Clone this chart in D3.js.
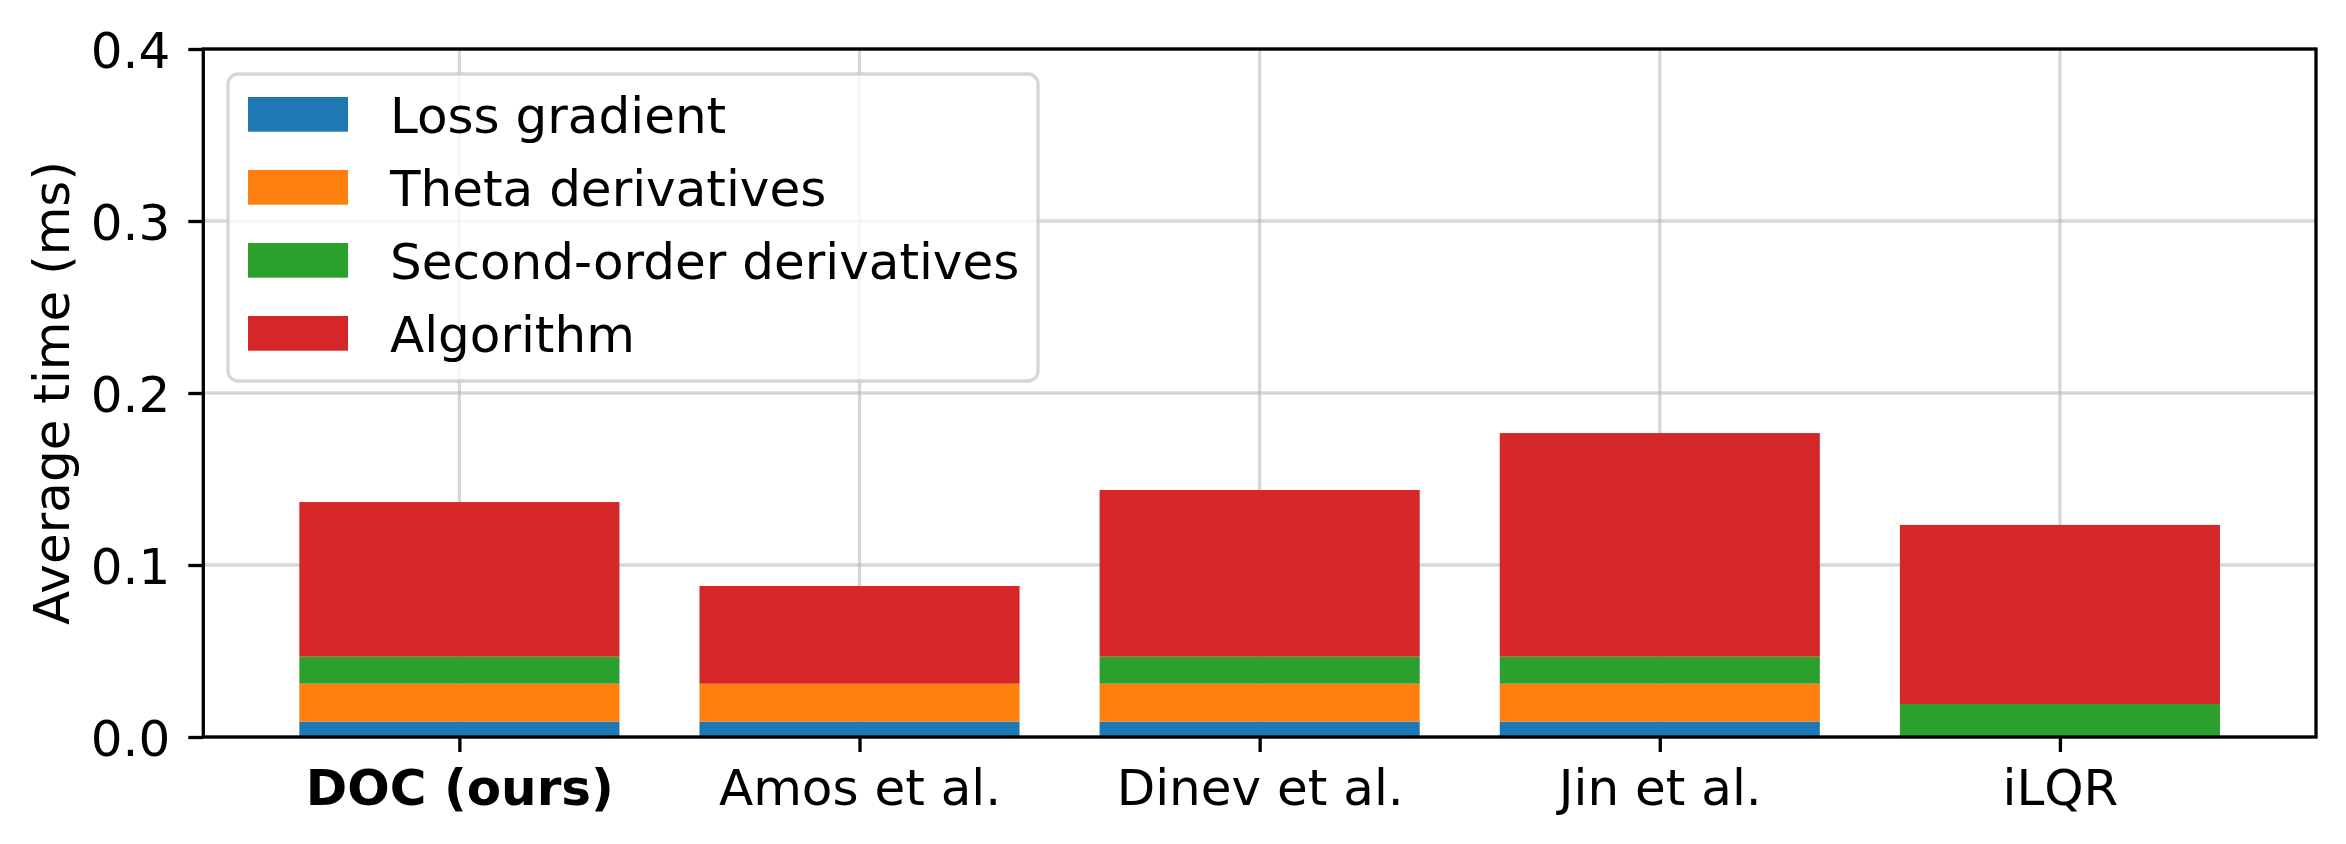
<!DOCTYPE html>
<html>
<head>
<meta charset="utf-8">
<script src="https://cdn.jsdelivr.net/npm/d3@7"></script>
<style>
  html, body { margin: 0; padding: 0; background: #fff; }
  svg { display: block; font-family: "DejaVu Sans", sans-serif; }
</style>
</head>
<body>
<svg id="chart" width="2346" height="844"></svg>
<script>
// ---- data ----
const categories = ["DOC (ours)", "Amos et al.", "Dinev et al.", "Jin et al.", "iLQR"];
const seriesNames = ["Loss gradient", "Theta derivatives", "Second-order derivatives", "Algorithm"];
const lossGradient = [0.009, 0.009, 0.009, 0.009, 0.0];
const thetaDerivatives = [0.022, 0.022, 0.022, 0.022, 0.0];
const secondOrder = [0.0157, 0.0, 0.0157, 0.0157, 0.0192];
const algorithm = [0.0899, 0.0568, 0.0969, 0.1300, 0.1041];
const yTicks = [0.0, 0.1, 0.2, 0.3, 0.4];
const colors = ["#1f77b4", "#ff7f0e", "#2ca02c", "#d62728"];
const yLabel = "Average time (ms)";

// ---- layout ----
const L = 203.3, R = 2316, T = 49, B = 737;
const fs = 50;
const svg = d3.select("#chart");

const x = d3.scaleLinear().domain([-0.64, 4.64]).range([L, R]);
const y = d3.scaleLinear().domain([0, 0.4]).range([B, T]);
const barW = 0.8;

// grid
const grid = svg.append("g");
grid.selectAll("line.h").data(yTicks).enter().append("line")
  .attr("x1", L).attr("x2", R).attr("y1", d => y(d)).attr("y2", d => y(d))
  .attr("stroke", "#b0b0b0").attr("stroke-opacity", 0.5).attr("stroke-width", 3.3);
grid.selectAll("line.v").data(categories.map((c, i) => i)).enter().append("line")
  .attr("y1", T).attr("y2", B).attr("x1", d => x(d)).attr("x2", d => x(d))
  .attr("stroke", "#b0b0b0").attr("stroke-opacity", 0.5).attr("stroke-width", 3.3);

// stacked bars
const rows = categories.map((c, i) => ({
  i,
  s0: lossGradient[i], s1: thetaDerivatives[i], s2: secondOrder[i], s3: algorithm[i]
}));
const stack = d3.stack().keys(["s0", "s1", "s2", "s3"])(rows);
const bars = svg.append("g");
stack.forEach((layer, k) => {
  bars.selectAll(null).data(layer.filter(d => d[1] - d[0] > 0)).enter().append("rect")
    .attr("x", d => x(d.data.i - barW / 2))
    .attr("width", d => x(d.data.i + barW / 2) - x(d.data.i - barW / 2))
    .attr("y", d => y(d[1]))
    .attr("height", d => y(d[0]) - y(d[1]))
    .attr("fill", colors[k]);
});

// axes
const xAxis = d3.axisBottom(x).tickValues(categories.map((c, i) => i))
  .tickFormat(i => categories[i]).tickSizeOuter(0).tickSize(15).tickPadding(17);
const gx = svg.append("g").attr("transform", `translate(0,${B})`).call(xAxis);
gx.select(".domain").remove();
gx.selectAll(".tick line").attr("stroke", "#000").attr("stroke-width", 3.3);
gx.selectAll(".tick text").attr("font-size", fs).attr("font-family", "DejaVu Sans").attr("fill", "#000")
  .attr("dy", "0.71em")
  .attr("font-weight", (d) => d === 0 ? "bold" : "normal");

const yAxis = d3.axisLeft(y).tickValues(yTicks).tickFormat(d3.format(".1f"))
  .tickSizeOuter(0).tickSize(15).tickPadding(18);
const gy = svg.append("g").attr("transform", `translate(${L},0)`).call(yAxis);
gy.select(".domain").remove();
gy.selectAll(".tick line").attr("stroke", "#000").attr("stroke-width", 3.3);
gy.selectAll(".tick text").attr("font-size", fs).attr("font-family", "DejaVu Sans").attr("fill", "#000")
  .attr("dy", "0.36em");

// frame
svg.append("rect").attr("x", L).attr("y", T).attr("width", R - L).attr("height", B - T)
  .attr("fill", "none").attr("stroke", "#000").attr("stroke-width", 3.3);

// y label
svg.append("text").attr("transform", `translate(69,${(T + B) / 2}) rotate(-90)`)
  .attr("text-anchor", "middle").attr("font-size", fs).attr("fill", "#000").text(yLabel);

// legend
const legX = 228, legY = 74, legW = 810, legH = 307;
const lg = svg.append("g");
lg.append("rect").attr("x", legX).attr("y", legY).attr("width", legW).attr("height", legH)
  .attr("rx", 10).attr("ry", 10)
  .attr("fill", "#fff").attr("fill-opacity", 0.8)
  .attr("stroke", "#cccccc").attr("stroke-opacity", 0.8).attr("stroke-width", 3.3);
const items = lg.selectAll("g.item").data(seriesNames).enter().append("g")
  .attr("transform", (d, k) => `translate(0,${97 + k * 73})`);
items.append("rect").attr("x", 248).attr("y", 0).attr("width", 100).attr("height", 34.7)
  .attr("fill", (d, k) => colors[k]);
items.append("text").attr("x", 390).attr("y", 17.35 + 18.5)
  .attr("font-size", fs).attr("fill", "#000").text(d => d);
</script>
</body>
</html>
